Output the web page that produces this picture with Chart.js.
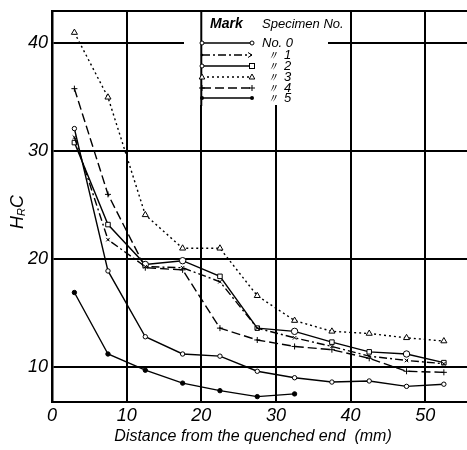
<!DOCTYPE html>
<html>
<head>
<meta charset="utf-8">
<script src="https://cdn.jsdelivr.net/npm/chart.js@4.4.0/dist/chart.umd.min.js"></script>
<style>
  html, body { margin: 0; padding: 0; background: #fff; }
  #wrap { width: 467px; height: 450px; }
</style>
</head>
<body>
<div id="wrap"><canvas id="chart" width="467" height="450"></canvas></div>
<script>
// distance from the quenched end (mm)
const distance = [3, 7.5, 12.5, 17.5, 22.5, 27.5, 32.5, 37.5, 42.5, 47.5, 52.5];

// HRC per specimen
const spec0 = [32.1, 18.9, 12.8, 11.2, 11.0, 9.6, 9.0, 8.6, 8.7, 8.2, 8.4];
const spec1 = [31.3, 21.8, 19.3, 19.2, 17.9, 13.6, 12.7, 11.9, 11.0, 10.6, 10.3];
const spec2 = [30.8, 23.2, 19.5, 19.85, 18.4, 13.6, 13.3, 12.3, 11.4, 11.2, 10.4];
const spec3 = [41.0, 35.0, 24.1, 21.0, 21.0, 16.6, 14.3, 13.3, 13.1, 12.7, 12.4];
const spec4 = [35.8, 26.0, 19.2, 19.0, 13.6, 12.5, 11.9, 11.6, 10.8, 9.6, 9.5];
const spec5 = [16.9, 11.2, 9.7, 8.5, 7.8, 7.25, 7.5];

const xTicks = [0, 10, 20, 30, 40, 50];
const yTicks = [10, 20, 30, 40];

const legendMarks = ['No. 0', '1', '2', '3', '4', '5'];

const pts = arr => arr.map((v, i) => ({ x: distance[i], y: v }));

const FONT = 'Liberation Sans, Arial, sans-serif';

const base = {
  borderColor: '#000',
  borderWidth: 1.4,
  pointBorderColor: '#000',
  pointBackgroundColor: '#fff',
  pointBorderWidth: 1,
  tension: 0,
  fill: false,
};

const overlay = {
  id: 'overlay',
  afterDraw(chart) {
    const { ctx, chartArea: a } = chart;
    ctx.save();
    // top frame line
    ctx.strokeStyle = '#000';
    ctx.lineWidth = 2;
    ctx.beginPath();
    ctx.moveTo(a.left, a.top);
    ctx.lineTo(a.right, a.top);
    ctx.stroke();

    // legend box (hides grid lines behind it)
    ctx.fillStyle = '#fff';
    ctx.fillRect(184, a.top + 1, 144, 93);
    const gx = chart.scales.x.getPixelForValue(20);
    ctx.beginPath();
    ctx.moveTo(gx, a.top);
    ctx.lineTo(gx, a.top + 95);
    ctx.stroke();

    ctx.fillStyle = '#000';
    ctx.textBaseline = 'middle';
    ctx.font = 'italic bold 14px ' + FONT;
    ctx.fillText('Mark', 210, 24);
    ctx.font = 'italic 13px ' + FONT;
    ctx.fillText('Specimen No.', 262, 24);

    const rows = [43, 55, 66, 77, 88, 98];
    const dashes = [[], [8, 3, 2, 3], [], [2, 3], [9, 4], []];
    const x0 = 202, x1 = 252;
    rows.forEach((y, i) => {
      ctx.lineWidth = 1.4;
      ctx.setLineDash(dashes[i]);
      ctx.beginPath();
      ctx.moveTo(x0, y);
      ctx.lineTo(x1, y);
      ctx.stroke();
      ctx.setLineDash([]);
      ctx.lineWidth = 1;
      const end = (x, kind) => {
        ctx.beginPath();
        if (kind === 'o') { ctx.arc(x, y, 2, 0, Math.PI * 2); ctx.fillStyle = '#fff'; ctx.fill(); ctx.stroke(); }
        else if (kind === 'f') { ctx.arc(x, y, 2, 0, Math.PI * 2); ctx.fillStyle = '#000'; ctx.fill(); }
        else if (kind === 's') { ctx.fillStyle = '#fff'; ctx.fillRect(x - 2.5, y - 2.5, 5, 5); ctx.strokeRect(x - 2.5, y - 2.5, 5, 5); }
        else if (kind === 't') { ctx.moveTo(x, y - 3); ctx.lineTo(x + 2.8, y + 2); ctx.lineTo(x - 2.8, y + 2); ctx.closePath(); ctx.fillStyle = '#fff'; ctx.fill(); ctx.stroke(); }
        else if (kind === '+') { ctx.moveTo(x - 3, y); ctx.lineTo(x + 3, y); ctx.moveTo(x, y - 3); ctx.lineTo(x, y + 3); ctx.stroke(); }
        else if (kind === '>') { ctx.moveTo(x - 4, y - 2.5); ctx.lineTo(x, y); ctx.lineTo(x - 4, y + 2.5); ctx.stroke(); }
        else if (kind === '.') { ctx.arc(x, y, 1.3, 0, Math.PI * 2); ctx.fillStyle = '#000'; ctx.fill(); }
      };
      const ends = [['o', 'o'], ['.', '>'], ['o', 's'], ['t', 't'], ['+', '+'], ['f', 'f']][i];
      end(x0, ends[0]);
      end(x1, ends[1]);
      ctx.fillStyle = '#000';
      ctx.font = 'italic 13px ' + FONT;
      if (i === 0) {
        ctx.fillText(legendMarks[i], 262, y);
      } else {
        ctx.fillText('\u3003', 266, y + 1);
        ctx.fillText(legendMarks[i], 284, y);
      }
    });

    // axis titles
    ctx.font = 'italic 16px ' + FONT;
    ctx.textAlign = 'center';
    ctx.fillText('Distance from the quenched end  (mm)', 253, 437);

    ctx.translate(18, 212);
    ctx.rotate(-Math.PI / 2);
    ctx.textAlign = 'left';
    ctx.font = 'italic 18px ' + FONT;
    const wH = ctx.measureText('H').width;
    ctx.font = 'italic 11px ' + FONT;
    const wR = ctx.measureText('R').width;
    ctx.font = 'italic 18px ' + FONT;
    const wC = ctx.measureText('C').width;
    let sx = -(wH + wR + wC) / 2;
    ctx.fillText('H', sx, 0);
    ctx.font = 'italic 11px ' + FONT;
    ctx.fillText('R', sx + wH, 4);
    ctx.font = 'italic 18px ' + FONT;
    ctx.fillText('C', sx + wH + wR, 0);
    ctx.restore();
  }
};

new Chart(document.getElementById('chart'), {
  type: 'line',
  data: {
    datasets: [
      { ...base, label: 'No. 0', data: pts(spec0), pointStyle: 'circle', pointRadius: 2.2 },
      { ...base, label: '1', data: pts(spec1), borderDash: [8, 3, 2, 3], pointStyle: 'crossRot', pointRadius: 2.5 },
      { ...base, label: '2', data: pts(spec2),
        pointStyle: ['rect', 'rect', 'circle', 'circle', 'rect', 'rect', 'circle', 'rect', 'rect', 'circle', 'rect'],
        pointRadius: 3.2 },
      { ...base, label: '3', data: pts(spec3), borderDash: [2, 3], pointStyle: 'triangle', pointRadius: 3.5 },
      { ...base, label: '4', data: pts(spec4), borderDash: [9, 4], pointStyle: 'cross', pointRadius: 3 },
      { ...base, label: '5', data: pts(spec5), pointStyle: 'circle', pointRadius: 2.2, pointBackgroundColor: '#000' },
    ],
  },
  options: {
    responsive: false,
    animation: false,
    devicePixelRatio: 1,
    layout: { autoPadding: false, padding: { top: 11, right: 0, left: 0, bottom: 0 } },
    plugins: { legend: { display: false }, tooltip: { enabled: false } },
    scales: {
      x: {
        type: 'linear', min: 0, max: 55.6,
        afterBuildTicks: s => { s.ticks = xTicks.map(v => ({ value: v })); },
        afterFit: s => { s.height = 48; s.paddingLeft = 0; s.paddingRight = 0; },
        ticks: { color: '#000', font: { family: FONT, size: 18, style: 'italic' }, padding: 3 },
        grid: { color: '#000', lineWidth: 2, drawTicks: false },
        border: { color: '#000', width: 2 },
      },
      y: {
        min: 6.75, max: 43,
        afterBuildTicks: s => { s.ticks = yTicks.map(v => ({ value: v })); },
        afterFit: s => { s.width = 52; s.paddingTop = 0; s.paddingBottom = 0; },
        ticks: { color: '#000', font: { family: FONT, size: 18, style: 'italic' }, padding: 4 },
        grid: { color: '#000', lineWidth: 2, drawTicks: false },
        border: { color: '#000', width: 2.5 },
      },
    },
  },
  plugins: [overlay],
});
</script>
</body>
</html>
